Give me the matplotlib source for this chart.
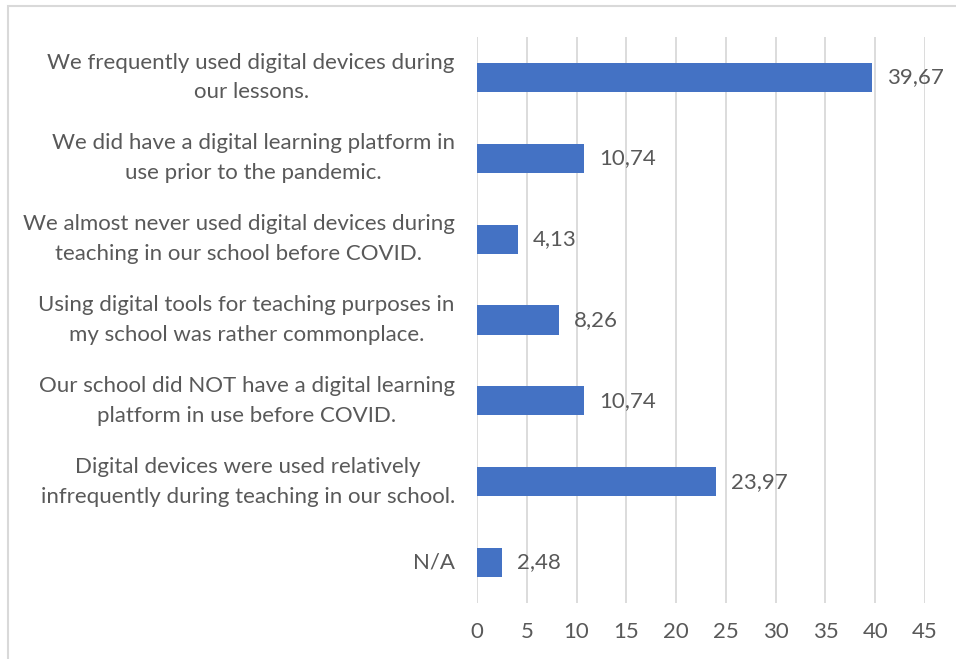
import matplotlib.pyplot as plt
from matplotlib.patches import Rectangle

plt.rcParams["font.family"] = ["Lato", "DejaVu Sans"]

labels = [
    "We frequently used digital devices during\nour lessons.",
    "We did have a digital learning platform in\nuse prior to the pandemic.",
    "We almost never used digital devices during\nteaching in our school before COVID.",
    "Using digital tools for teaching purposes in\nmy school was rather commonplace.",
    "Our school did NOT have a digital learning\nplatform in use before COVID.",
    "Digital devices were used relatively\ninfrequently during teaching in our school.",
    "N/A",
]
values = [39.67, 10.74, 4.13, 8.26, 10.74, 23.97, 2.48]
x_ticks = [0, 5, 10, 15, 20, 25, 30, 35, 40, 45]

text_color = "#595959"
bar_color = "#4472C4"
grid_color = "#D9D9D9"
font_size = 16


def main():
    fig = plt.figure(figsize=(9.56, 6.59), dpi=100)
    # light outer frame, open on the right and bottom
    fig.patches.append(Rectangle((8 / 956, -0.1), 1.2, 1.1 - 6 / 659,
                                 transform=fig.transFigure, fill=False,
                                 edgecolor="#D9D9D9", linewidth=1.5))

    ax = fig.add_axes([477 / 956, 1 - 603 / 659, 448 / 956, 566 / 659])
    y = list(range(len(values)))[::-1]
    bars = ax.barh(y, values, height=0.36, color=bar_color)

    for bar, v in zip(bars, values):
        ax.text(bar.get_width() + 1.5, bar.get_y() + bar.get_height() / 2,
                f"{v:.2f}".replace(".", ","), va="center", ha="left",
                fontsize=font_size, color=text_color)

    ax.set_xlim(0, 45)
    ax.set_ylim(-0.5, len(values) - 0.5)
    ax.set_xticks(x_ticks)
    ax.set_yticks(y)
    ax.set_yticklabels(labels, multialignment="center", linespacing=1.6)
    for lbl in ax.get_yticklabels():
        lbl.set_verticalalignment("center")
    ax.tick_params(axis="both", length=0, labelsize=font_size, colors=text_color)
    ax.tick_params(axis="y", pad=16)
    ax.tick_params(axis="x", pad=14)
    ax.xaxis.grid(True, color=grid_color, linewidth=1.3)
    ax.set_axisbelow(True)
    for s in ax.spines.values():
        s.set_visible(False)

    fig.savefig("out.png", dpi=100)


if __name__ == "__main__":
    main()
